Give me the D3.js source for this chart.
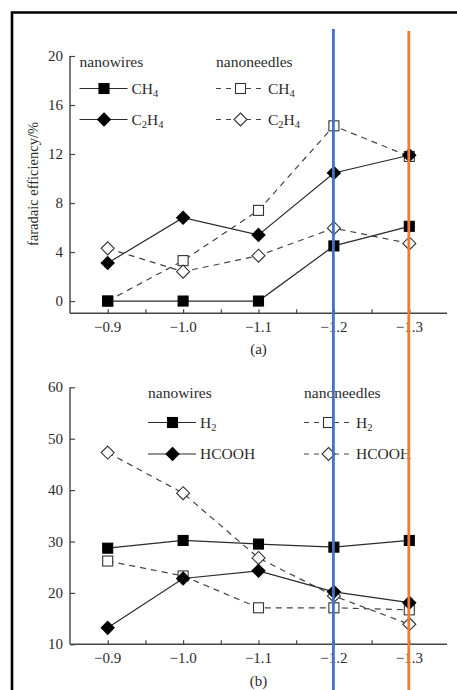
<!DOCTYPE html>
<html><head><meta charset="utf-8">
<script src="https://cdn.jsdelivr.net/npm/d3@7"></script>
<style>body{margin:0;background:#fff}svg{display:block}</style>
</head><body>
<script>
const potentials = [-0.9, -1.0, -1.1, -1.2, -1.3];
const xTickLabels = ["−0.9", "−1.0", "−1.1", "−1.2", "−1.3"];
const minorTicks = [-0.95, -1.05, -1.15, -1.25];
// panel (a)
const ch4Wires = [0, 0, 0, 4.5, 6.1];
const c2h4Wires = [3.1, 6.8, 5.4, 10.45, 11.9];
const ch4Needles = [0, 3.3, 7.4, 14.3, 11.8];
const c2h4Needles = [4.3, 2.4, 3.7, 5.95, 4.7];
const yTicksA = [0, 4, 8, 12, 16, 20];
// panel (b)
const h2Wires = [28.7, 30.2, 29.5, 28.9, 30.2];
const hcoohWires = [13.2, 22.8, 24.3, 20.2, 18.1];
const h2Needles = [26.2, 23.3, 17.1, 17.1, 16.7];
const hcoohNeedles = [47.3, 39.4, 26.8, 19.4, 13.9];
const yTicksB = [10, 20, 30, 40, 50, 60];
const yLabel = "faradaic efficiency/%";
const highlight = [{v: -1.2, color: "#4472C4"}, {v: -1.3, color: "#ED7D31"}];

const W = 457, H = 690;
const FONT = "'Liberation Serif', 'Times New Roman', Times, 'DejaVu Serif', serif";
const svg = d3.select("body").append("svg").attr("width", W).attr("height", H)
  .attr("font-family", FONT).style("font-family", FONT);
svg.append("rect").attr("width", W).attr("height", H).attr("fill", "#fff");

// frame border
svg.append("path").attr("d", `M12,${H} V12.5 H${W}`).attr("fill", "none").attr("stroke", "#000").attr("stroke-width", 2.6);

const x = d3.scaleLinear().domain([-0.85, -1.35]).range([70, 447]);
const axisColor = "#444";
const txt = "#2b2b2b";

function squareSym(g, cx, cy, filled) {
  g.append("rect").attr("x", cx - 5).attr("y", cy - 5).attr("width", 10).attr("height", 10)
    .attr("fill", filled ? "#000" : "#fff").attr("stroke", filled ? "#000" : "#333").attr("stroke-width", 1.1);
}
function diamondSym(g, cx, cy, filled) {
  const r = 6.5;
  g.append("path").attr("d", `M${cx},${cy - r} L${cx + r},${cy} L${cx},${cy + r} L${cx - r},${cy} Z`)
    .attr("fill", filled ? "#000" : "#fff").attr("stroke", filled ? "#000" : "#333").attr("stroke-width", 1.1);
}
function addText(g, xx, yy, s, size, anchor) {
  return g.append("text").attr("x", xx).attr("y", yy).attr("font-size", size)
    .attr("text-anchor", anchor || "start").attr("fill", txt).attr("font-family", FONT).text(s);
}

function panel(y, yTicks, series, label, labelY, legend) {
  const g = svg.append("g");
  const [y0, y1] = y.range();
  g.append("line").attr("x1", 70).attr("x2", 70).attr("y1", y0).attr("y2", y1).attr("stroke", axisColor).attr("stroke-width", 1.4);
  g.append("line").attr("x1", 70).attr("x2", 447).attr("y1", y0).attr("y2", y0).attr("stroke", axisColor).attr("stroke-width", 1.4);
  const ya = g.append("g").attr("transform", "translate(70,0)").call(d3.axisRight(y).tickValues(yTicks).tickSize(5).tickFormat(""));
  ya.select(".domain").remove();
  ya.selectAll("line").attr("stroke", axisColor).attr("stroke-width", 1.2);
  yTicks.forEach(t => addText(g, 63, y(t) + 5, t, 15, "end"));
  const xa = g.append("g").attr("transform", `translate(0,${y0})`).call(d3.axisTop(x).tickValues(potentials.concat(minorTicks)).tickSize(4).tickFormat(""));
  xa.select(".domain").remove();
  xa.selectAll("line").attr("stroke", axisColor).attr("stroke-width", 1.2);
  potentials.forEach((p, i) => addText(g, x(p), y0 + 19, xTickLabels[i], 15, "middle"));
  addText(g, x(-1.1), labelY, label, 15, "middle");

  const line = d3.line().x((d, i) => x(potentials[i])).y(d => y(d));
  series.forEach(s => {
    g.append("path").attr("d", line(s.values)).attr("fill", "none")
      .attr("stroke", s.filled ? "#2a2a2a" : "#444").attr("stroke-width", 1.2)
      .attr("stroke-dasharray", s.filled ? null : "6,5");
  });
  series.forEach(s => {
    s.values.forEach((v, i) => (s.shape === "sq" ? squareSym : diamondSym)(g, x(potentials[i]), y(v), s.filled));
  });

  legend.forEach(col => {
    addText(g, col.x, col.titleY, col.title, 15.5);
    col.items.forEach(it => {
      g.append("line").attr("x1", col.x).attr("x2", col.x + 48).attr("y1", it.y).attr("y2", it.y)
        .attr("stroke", col.filled ? "#2a2a2a" : "#444").attr("stroke-width", 1.2)
        .attr("stroke-dasharray", col.filled ? null : "5,5");
      (it.shape === "sq" ? squareSym : diamondSym)(g, col.x + 24.5, it.y, col.filled);
      const t = addText(g, col.x + 52, it.y + 5, "", 15.5);
      it.parts.forEach(p => {
        if (p.sub) t.append("tspan").attr("dy", 3).attr("font-size", 10.5).text(p.t);
        else t.append("tspan").attr("dy", p.after ? -3 : 0).text(p.t);
      });
    });
  });
}

const yA = d3.scaleLinear().domain([-1, 20]).range([313.3, 56]);
panel(yA, yTicksA, [
  {values: ch4Needles, shape: "sq", filled: false},
  {values: c2h4Needles, shape: "di", filled: false},
  {values: ch4Wires, shape: "sq", filled: true},
  {values: c2h4Wires, shape: "di", filled: true}
], "(a)", 354, [
  {x: 79.5, titleY: 67, title: "nanowires", filled: true, items: [
    {y: 88.5, shape: "sq", parts: [{t: "CH"}, {t: "4", sub: true}]},
    {y: 119.5, shape: "di", parts: [{t: "C"}, {t: "2", sub: true}, {t: "H", after: true}, {t: "4", sub: true}]}]},
  {x: 216, titleY: 67, title: "nanoneedles", filled: false, items: [
    {y: 88.5, shape: "sq", parts: [{t: "CH"}, {t: "4", sub: true}]},
    {y: 119.5, shape: "di", parts: [{t: "C"}, {t: "2", sub: true}, {t: "H", after: true}, {t: "4", sub: true}]}]}
]);
svg.append("text").attr("transform", "translate(38,184) rotate(-90)").attr("text-anchor", "middle")
  .attr("font-size", 14.5).attr("fill", txt).attr("font-family", FONT).text(yLabel);

const yB = d3.scaleLinear().domain([10, 60]).range([644.3, 387.3]);
panel(yB, yTicksB, [
  {values: h2Needles, shape: "sq", filled: false},
  {values: hcoohNeedles, shape: "di", filled: false},
  {values: h2Wires, shape: "sq", filled: true},
  {values: hcoohWires, shape: "di", filled: true}
], "(b)", 686, [
  {x: 148, titleY: 398, title: "nanowires", filled: true, items: [
    {y: 422.5, shape: "sq", parts: [{t: "H"}, {t: "2", sub: true}]},
    {y: 454, shape: "di", parts: [{t: "HCOOH"}]}]},
  {x: 304, titleY: 398, title: "nanoneedles", filled: false, items: [
    {y: 422.5, shape: "sq", parts: [{t: "H"}, {t: "2", sub: true}]},
    {y: 454, shape: "di", parts: [{t: "HCOOH"}]}]}
]);

highlight.forEach((h, i) => {
  svg.append("line").attr("x1", x(h.v) - 0.5).attr("x2", x(h.v) - 0.5).attr("y1", i === 0 ? 29 : 31).attr("y2", H)
    .attr("stroke", h.color).attr("stroke-width", 2.8);
});
</script>
</body></html>
